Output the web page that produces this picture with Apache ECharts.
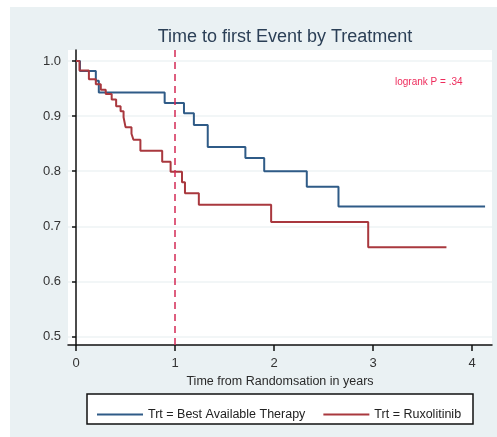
<!DOCTYPE html>
<html>
<head>
<meta charset="utf-8">
<script src="https://cdn.jsdelivr.net/npm/echarts@6/dist/echarts.min.js"></script>
<style>
html,body{margin:0;padding:0;background:#fff;}
#c{width:497px;height:437px;}
</style>
</head>
<body>
<div id="c"></div>
<script>
var FONT = "'Liberation Sans',Arial,sans-serif";
var titleText = "Time to first Event by Treatment";
var xName = "Time from Randomsation in years";
var logrankText = "logrank P = .34";
var seriesNames = ["Trt = Best Available Therapy", "Trt = Ruxolitinib"];
var xTicks = [0, 1, 2, 3, 4];
var yTicks = [0.5, 0.6, 0.7, 0.8, 0.9, 1.0];
var refLineX = 1;

// Kaplan-Meier steps: [time, survival after event]
var batSteps = [
  [0, 1.0], [0.04, 0.982], [0.20, 0.964], [0.23, 0.943], [0.895, 0.924],
  [1.09, 0.905], [1.19, 0.884], [1.33, 0.844], [1.71, 0.824], [1.90, 0.800],
  [2.33, 0.772], [2.65, 0.736], [4.13, 0.736]
];
var ruxSteps = [
  [0, 1.0], [0.035, 0.983], [0.13, 0.967], [0.20, 0.958], [0.25, 0.948],
  [0.30, 0.940], [0.36, 0.930], [0.405, 0.918], [0.45, 0.909], [0.48, 0.898],
  [0.50, 0.880], [0.56, 0.868], [0.58, 0.857], [0.65, 0.837], [0.87, 0.817],
  [0.955, 0.799], [1.07, 0.780], [1.10, 0.760], [1.24, 0.739], [1.97, 0.708],
  [2.95, 0.662], [3.74, 0.662]
];

var chart = echarts.init(document.getElementById('c'), null, {renderer: 'canvas'});
var option = {
  backgroundColor: '#ffffff',
  animation: false,
  graphic: [
    {type: 'rect', z: -10, silent: true, shape: {x: 10, y: 7, width: 487, height: 430}, style: {fill: '#eaf1f3'}},
    {type: 'rect', z: -9, silent: true, shape: {x: 68, y: 50, width: 424, height: 295}, style: {fill: '#ffffff'}},
    {type: 'rect', z: 5, silent: true, shape: {x: 87, y: 394, width: 386, height: 30}, style: {fill: '#ffffff', stroke: '#111', lineWidth: 1.5}},
    {type: 'text', z: 6, left: 395, top: 77, style: {text: logrankText, fill: '#ee2c5c', font: "10px " + FONT}}
  ],
  title: {
    text: titleText,
    left: 280, textAlign: 'center', top: 23,
    textStyle: {fontFamily: FONT, fontSize: 18, fontWeight: 'normal', color: '#2b3f56'}
  },
  legend: {
    left: 92, top: 403, z: 7,
    itemWidth: 46, itemHeight: 2, itemGap: 18,
    icon: 'rect',
    textStyle: {fontFamily: FONT, fontSize: 12.5, color: '#222'},
    data: seriesNames
  },
  grid: {left: 68, top: 50, right: 5, bottom: 92, containLabel: false},
  xAxis: {
    type: 'value', min: -0.081, max: 4.2,
    name: xName, nameLocation: 'middle', nameGap: 27,
    nameTextStyle: {fontFamily: FONT, fontSize: 12.5, color: '#2a2a2a'},
    axisLine: {show: true, lineStyle: {color: '#111', width: 1.5}},
    axisTick: {show: true, customValues: xTicks, length: 6, lineStyle: {color: '#111', width: 1.5}},
    axisLabel: {customValues: xTicks, margin: 12, fontFamily: FONT, fontSize: 13, color: '#333'},
    splitLine: {show: false}
  },
  yAxis: {
    type: 'value', min: 0.4846, max: 1.02,
    axisLine: {show: true, lineStyle: {color: '#111', width: 1.5}},
    axisTick: {show: true, customValues: yTicks, length: 4, lineStyle: {color: '#111', width: 1.5}},
    axisLabel: {customValues: yTicks, margin: 7, fontFamily: FONT, fontSize: 13, color: '#333',
      formatter: function (v) { return v.toFixed(1); }},
    splitLine: {show: true, lineStyle: {color: '#eef3f5', width: 1.5}}
  },
  series: [
    {
      name: seriesNames[0], type: 'line', step: 'end', showSymbol: false, symbol: 'none',
      data: batSteps, color: '#2f5b87',
      lineStyle: {color: '#2f5b87', width: 2}
    },
    {
      name: seriesNames[1], type: 'line', step: 'end', showSymbol: false, symbol: 'none',
      data: ruxSteps, color: '#a9383e',
      lineStyle: {color: '#a9383e', width: 2},
      markLine: {
        silent: true, symbol: 'none', label: {show: false},
        lineStyle: {color: '#d42a55', type: [7, 5], width: 1.5},
        data: [{xAxis: refLineX}]
      }
    }
  ]
};
chart.setOption(option);
</script>
</body>
</html>
